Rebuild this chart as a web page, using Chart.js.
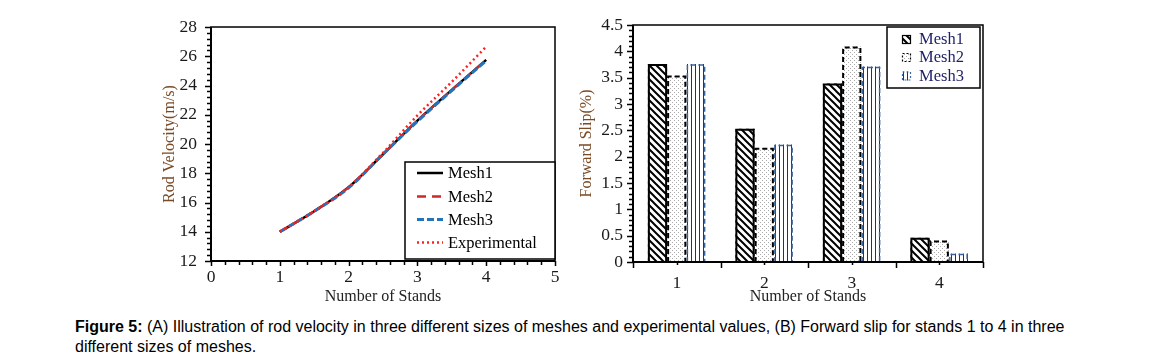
<!DOCTYPE html>
<html>
<head>
<meta charset="utf-8">
<script src="https://cdn.jsdelivr.net/npm/chart.js@4.4.1/dist/chart.umd.min.js"></script>
<style>
body{margin:0;background:#fff;width:1150px;height:363px;position:relative;overflow:hidden}
#velWrap{position:absolute;left:150px;top:0}
#slipWrap{position:absolute;left:570px;top:0}
#caption{position:absolute;left:75px;top:317px;font-family:"Liberation Sans",Arial,sans-serif;font-size:16px;line-height:19.5px;color:#000}
</style>
</head>
<body>
<div id="velWrap"><canvas id="velChart" width="420" height="310"></canvas></div>
<div id="slipWrap"><canvas id="slipChart" width="430" height="310"></canvas></div>
<div id="caption"><b>Figure 5:</b> (A) Illustration of rod velocity in three different sizes of meshes and experimental values, (B) Forward slip for stands 1 to 4 in three<br>different sizes of meshes.</div>
<script>
//values
// (A) rod velocity
var standPos = [1, 1.5, 2, 2.5, 3, 3.5, 4];
var mesh1Vel = [14.0, 15.4, 17.05, 19.3, 21.6, 23.7, 25.75];
var mesh2Vel = [14.0, 15.4, 17.05, 19.3, 21.6, 23.7, 25.75];
var mesh3Vel = [14.0, 15.4, 17.0, 19.3, 21.55, 23.65, 25.7];
var expVel   = [14.0, 15.4, 17.05, 19.4, 21.95, 24.25, 26.65];

// (B) forward slip
var stands    = ['1', '2', '3', '4'];
var mesh1Slip = [3.76, 2.53, 3.39, 0.46];
var mesh2Slip = [3.54, 2.17, 4.09, 0.41];
var mesh3Slip = [3.76, 2.23, 3.71, 0.16];

var serif = '"Liberation Serif", "Times New Roman", serif';
var titleBrown = '#7a4a25';

function pts(xs, ys) {
    return xs.map(function (x, i) { return {x: x, y: ys[i]}; });
}

/* ---------- patterns for the bars ---------- */
function makePattern(kind) {
    var c = document.createElement('canvas');
    var g = c.getContext('2d');
    if (kind === 'hatch') {
        c.width = 7; c.height = 7;
        g.fillStyle = '#fff'; g.fillRect(0, 0, 7, 7);
        g.strokeStyle = '#000'; g.lineWidth = 2;
        g.beginPath();
        g.moveTo(-1, -1); g.lineTo(8, 8);
        g.moveTo(-1, 6); g.lineTo(1, 8);
        g.moveTo(6, -1); g.lineTo(8, 1);
        g.stroke();
    } else if (kind === 'dots') {
        c.width = 4; c.height = 4;
        g.fillStyle = '#fff'; g.fillRect(0, 0, 4, 4);
        g.fillStyle = '#aaa';
        g.fillRect(0, 0, 1, 1);
        g.fillRect(2, 2, 1, 1);
    } else {
        c.width = 4; c.height = 4;
        g.fillStyle = '#fff'; g.fillRect(0, 0, 4, 4);
        g.fillStyle = '#333';
        g.fillRect(1, 0, 1, 4);
    }
    return g.createPattern(c, 'repeat');
}

var hatchFill = makePattern('hatch');
var dotFill = makePattern('dots');
var stripeFill = makePattern('stripes');

/* ---------- frame + minor ticks (Chart.js has no minor ticks) ---------- */
function tickLoop(min, max, step, majorEvery, fn) {
    var n = Math.round((max - min) / step);
    for (var i = 0; i <= n; i++) {
        fn(min + i * step, i % majorEvery === 0);
    }
}

var velFrame = {
    id: 'velFrame',
    afterDraw: function (chart) {
        var ctx = chart.ctx, a = chart.chartArea;
        var xs = chart.scales.x, ys = chart.scales.y;
        ctx.save();
        ctx.strokeStyle = '#000';
        ctx.lineWidth = 1.5;
        ctx.strokeRect(a.left, a.top, a.right - a.left, a.bottom - a.top);
        ctx.lineWidth = 2;
        ctx.beginPath();
        ctx.moveTo(a.left, a.top); ctx.lineTo(a.left, a.bottom); ctx.lineTo(a.right, a.bottom);
        ctx.stroke();
        ctx.lineWidth = 1.5;
        ctx.beginPath();
        tickLoop(12, 28, 0.4, 5, function (v, major) {
            var py = Math.round(ys.getPixelForValue(v)) + 0.5;
            ctx.moveTo(a.left, py); ctx.lineTo(a.left - (major ? 6 : 4), py);
        });
        tickLoop(0, 5, 0.2, 5, function (v, major) {
            var px = Math.round(xs.getPixelForValue(v)) + 0.5;
            ctx.moveTo(px, a.bottom); ctx.lineTo(px, a.bottom + (major ? 5 : 4));
        });
        ctx.stroke();
        ctx.restore();
    }
};

var slipFrame = {
    id: 'slipFrame',
    afterDraw: function (chart) {
        var ctx = chart.ctx, a = chart.chartArea;
        var xs = chart.scales.x, ys = chart.scales.y;
        ctx.save();
        ctx.strokeStyle = '#000';
        ctx.lineWidth = 1.5;
        ctx.strokeRect(a.left, a.top, a.right - a.left, a.bottom - a.top);
        ctx.lineWidth = 2;
        ctx.beginPath();
        ctx.moveTo(a.left, a.top); ctx.lineTo(a.left, a.bottom); ctx.lineTo(a.right, a.bottom);
        ctx.stroke();
        ctx.lineWidth = 1.5;
        ctx.beginPath();
        tickLoop(0, 4.5, 0.1, 5, function (v, major) {
            var py = Math.round(ys.getPixelForValue(v)) + 0.5;
            ctx.moveTo(a.left, py); ctx.lineTo(a.left - (major ? 6 : 4), py);
        });
        var w = (a.right - a.left) / stands.length;
        for (var i = 0; i <= stands.length; i++) {
            var bx = Math.round(a.left + i * w) + 0.5;
            ctx.moveTo(bx, a.bottom); ctx.lineTo(bx, a.bottom + 6);
        }
        stands.forEach(function (s, i) {
            var cx = Math.round(xs.getPixelForValue(i)) + 0.5;
            ctx.moveTo(cx, a.bottom); ctx.lineTo(cx, a.bottom + 3);
        });
        ctx.stroke();
        ctx.restore();
    }
};

/* ---------- dashed bar borders ---------- */
var barBorders = {
    id: 'barBorders',
    afterDatasetsDraw: function (chart) {
        var ctx = chart.ctx;
        ctx.save();
        chart.data.datasets.forEach(function (ds, di) {
            chart.getDatasetMeta(di).data.forEach(function (el) {
                var p = el.getProps(['x', 'y', 'base', 'width'], true);
                var l = p.x - p.width / 2, r = p.x + p.width / 2;
                ctx.strokeStyle = ds.edgeColor;
                ctx.lineWidth = ds.edgeWidth;
                ctx.setLineDash(ds.edgeDash);
                ctx.beginPath();
                ctx.moveTo(l + 1, p.base); ctx.lineTo(l + 1, p.y + 1);
                ctx.lineTo(r - 1, p.y + 1); ctx.lineTo(r - 1, p.base);
                ctx.stroke();
            });
        });
        ctx.restore();
    }
};

/* ---------- legends drawn inside the plot ---------- */
var velLegend = {
    id: 'velLegend',
    afterDraw: function (chart) {
        var ctx = chart.ctx, a = chart.chartArea;
        var bw = 150, bh = 97;
        var bx = a.right - bw, by = a.bottom - 2 - bh;
        ctx.save();
        ctx.fillStyle = '#fff';
        ctx.fillRect(bx, by, bw, bh);
        ctx.strokeStyle = '#000';
        ctx.lineWidth = 1.5;
        ctx.strokeRect(bx, by, bw, bh);
        ctx.font = '16.5px ' + serif;
        ctx.textBaseline = 'middle';
        var rows = [11, 34.5, 57.5, 80.5];
        chart.data.datasets.forEach(function (ds, i) {
            var y = by + rows[i];
            ctx.strokeStyle = ds.borderColor;
            ctx.lineWidth = ds.borderWidth;
            ctx.setLineDash(ds.borderDash || []);
            ctx.beginPath();
            ctx.moveTo(bx + 12, y); ctx.lineTo(bx + 38, y);
            ctx.stroke();
            ctx.setLineDash([]);
            ctx.fillStyle = '#000';
            ctx.fillText(ds.label, bx + 43, y + 1);
        });
        ctx.restore();
    }
};

var slipLegend = {
    id: 'slipLegend',
    afterDraw: function (chart) {
        var ctx = chart.ctx, a = chart.chartArea;
        var bw = 93, bh = 61;
        var bx = a.right - 3 - bw, by = a.top + 2;
        ctx.save();
        ctx.fillStyle = '#fff';
        ctx.fillRect(bx, by, bw, bh);
        ctx.strokeStyle = '#000';
        ctx.lineWidth = 1.5;
        ctx.strokeRect(bx, by, bw, bh);
        ctx.font = '16.5px ' + serif;
        ctx.textBaseline = 'middle';
        var rows = [12, 30, 48.5];
        chart.data.datasets.forEach(function (ds, i) {
            var y = by + rows[i];
            ctx.fillStyle = ds.backgroundColor;
            ctx.fillRect(bx + 15, y - 4, 9, 9);
            ctx.strokeStyle = ds.edgeColor;
            ctx.lineWidth = 1.2;
            ctx.setLineDash(i === 0 ? [] : [2, 2]);
            ctx.strokeRect(bx + 15.5, y - 3.5, 8, 8);
            ctx.setLineDash([]);
            ctx.fillStyle = '#1e1e66';
            ctx.fillText(ds.label, bx + 32, y + 1);
        });
        ctx.restore();
    }
};

function plainNum(v) {
    return String(Math.round(v * 10) / 10);
}

/* ---------- (A) rod velocity ---------- */
new Chart(document.getElementById('velChart').getContext('2d'), {
    type: 'line',
    data: {
        datasets: [
            {label: 'Mesh1', data: pts(standPos, mesh1Vel), borderColor: '#000000', borderWidth: 2.5, order: 3},
            {label: 'Mesh2', data: pts(standPos, mesh2Vel), borderColor: '#cc2a2a', borderWidth: 2.5, borderDash: [9, 6], order: 2},
            {label: 'Mesh3', data: pts(standPos, mesh3Vel), borderColor: '#2474bc', borderWidth: 3, borderDash: [7, 3], order: 1},
            {label: 'Experimental', data: pts(standPos, expVel), borderColor: '#ff2020', borderWidth: 2.5, borderDash: [2, 3], order: 0}
        ]
    },
    options: {
        responsive: false,
        animation: false,
        layout: {padding: {left: 0, right: 15, top: 27, bottom: 0}},
        elements: {
            point: {radius: 0},
            line: {cubicInterpolationMode: 'monotone', fill: false}
        },
        plugins: {legend: {display: false}, tooltip: {enabled: false}},
        scales: {
            x: {
                type: 'linear', min: 0, max: 5,
                grid: {display: false, drawTicks: false},
                border: {display: false},
                ticks: {stepSize: 1, padding: 6, color: '#1a1a1a', font: {family: serif, size: 17.5}, maxRotation: 0, callback: plainNum},
                title: {display: true, text: 'Number of Stands', color: '#222', font: {family: serif, size: 16}, padding: {top: 0, bottom: 4}},
                afterFit: function (s) { s.height = 49; }
            },
            y: {
                min: 12, max: 28,
                grid: {display: false, drawTicks: false},
                border: {display: false},
                ticks: {stepSize: 2, padding: 14, color: '#1a1a1a', font: {family: serif, size: 17.5}, callback: plainNum},
                title: {display: true, text: 'Rod Velocity(m/s)', color: titleBrown, font: {family: serif, size: 16}, padding: {top: 10, bottom: 0}},
                afterFit: function (s) { s.width = 61; }
            }
        }
    },
    plugins: [velFrame, velLegend]
});

/* ---------- (B) forward slip ---------- */
new Chart(document.getElementById('slipChart').getContext('2d'), {
    type: 'bar',
    data: {
        labels: stands,
        datasets: [
            {label: 'Mesh1', data: mesh1Slip, backgroundColor: hatchFill, edgeColor: '#000', edgeWidth: 2, edgeDash: []},
            {label: 'Mesh2', data: mesh2Slip, backgroundColor: dotFill, edgeColor: '#000', edgeWidth: 2, edgeDash: [5, 3]},
            {label: 'Mesh3', data: mesh3Slip, backgroundColor: stripeFill, edgeColor: '#3c64a0', edgeWidth: 1.5, edgeDash: [5, 3]}
        ]
    },
    options: {
        responsive: false,
        animation: false,
        layout: {padding: {left: 0, right: 17, top: 25, bottom: 0}},
        datasets: {bar: {barPercentage: 1, categoryPercentage: 0.66, borderWidth: 0}},
        plugins: {legend: {display: false}, tooltip: {enabled: false}},
        scales: {
            x: {
                grid: {display: false, drawTicks: false},
                border: {display: false},
                ticks: {padding: 11, color: '#1a1a1a', font: {family: serif, size: 17.5}},
                title: {display: true, text: 'Number of Stands', color: '#222', font: {family: serif, size: 16}, padding: {top: 0, bottom: 4}},
                afterFit: function (s) { s.height = 48; }
            },
            y: {
                min: 0, max: 4.5,
                grid: {display: false, drawTicks: false},
                border: {display: false},
                ticks: {stepSize: 0.5, padding: 10, color: '#1a1a1a', font: {family: serif, size: 17.5}, callback: plainNum},
                title: {display: true, text: 'Forward Slip(%)', color: titleBrown, font: {family: serif, size: 16}, padding: {top: 7, bottom: 0}},
                afterFit: function (s) { s.width = 63; }
            }
        }
    },
    plugins: [barBorders, slipFrame, slipLegend]
});
</script>
</body>
</html>
